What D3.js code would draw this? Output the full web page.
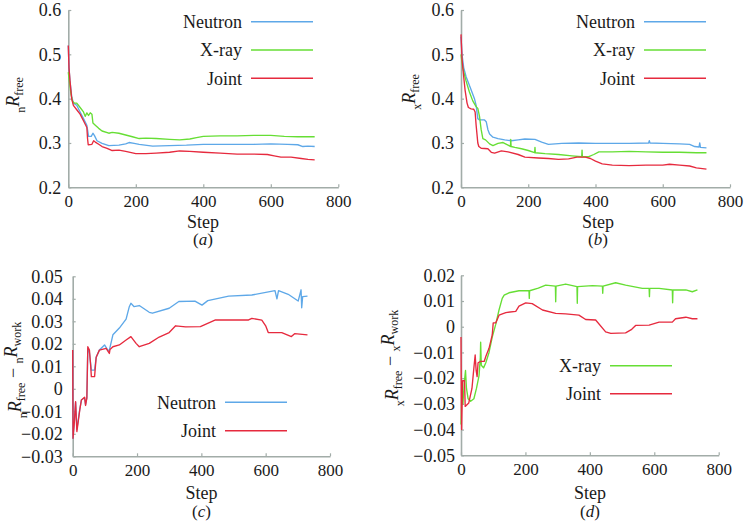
<!DOCTYPE html>
<html><head><meta charset="utf-8">
<script src="https://cdn.jsdelivr.net/npm/d3@7"></script>
<style>
body{margin:0;background:#fff;}
svg{display:block;}
text{font-family:"Liberation Serif","Times New Roman",Tinos,"Nimbus Roman","DejaVu Serif",serif;fill:#1a1a1a;}
</style>
</head><body>
<svg id="chart" width="744" height="527"></svg>
<script>
// ---------------- data ----------------
const stepTicks = [0, 200, 400, 600, 800];
const rfreeTicks = [0.2, 0.3, 0.4, 0.5, 0.6];
const gapTicksC = [-0.03, -0.02, -0.01, 0, 0.01, 0.02, 0.03, 0.04, 0.05];
const gapTicksD = [-0.05, -0.04, -0.03, -0.02, -0.01, 0, 0.01, 0.02];

// (a) nRfree
const aNeutron = [[0,0.52],[2,0.47],[5,0.44],[10,0.405],[15,0.39],[25,0.385],[35,0.37],[45,0.355],[55,0.34],[60,0.315],[68,0.315],[73,0.322],[78,0.316],[85,0.305],[100,0.299],[120,0.294],[150,0.295],[170,0.298],[180,0.301],[195,0.299],[210,0.297],[250,0.293],[300,0.294],[350,0.295],[400,0.297],[450,0.297],[500,0.297],[550,0.297],[600,0.298],[650,0.297],[680,0.296],[695,0.292],[710,0.293],[730,0.292]];
const aXray = [[0,0.46],[3,0.44],[8,0.41],[12,0.395],[18,0.39],[25,0.39],[35,0.38],[45,0.37],[50,0.36],[55,0.368],[60,0.362],[65,0.368],[70,0.365],[73,0.345],[80,0.34],[90,0.333],[100,0.327],[120,0.322],[130,0.324],[150,0.322],[170,0.318],[190,0.314],[210,0.31],[230,0.311],[260,0.31],[300,0.308],[330,0.307],[360,0.309],[380,0.312],[400,0.315],[450,0.316],[500,0.316],[550,0.317],[600,0.317],[640,0.315],[680,0.314],[730,0.314]];
const aJoint = [[0,0.52],[2,0.47],[5,0.44],[10,0.4],[15,0.385],[25,0.375],[35,0.365],[45,0.35],[55,0.335],[57,0.31],[59,0.296],[70,0.297],[75,0.305],[80,0.302],[90,0.297],[100,0.292],[115,0.288],[130,0.283],[150,0.284],[170,0.281],[200,0.276],[230,0.276],[260,0.277],[300,0.279],[330,0.282],[360,0.281],[400,0.279],[450,0.277],[500,0.275],[550,0.275],[590,0.274],[610,0.271],[630,0.268],[660,0.268],[690,0.265],[710,0.263],[730,0.262]];

// (b) xRfree
const bNeutron = [[0,0.54],[3,0.5],[8,0.47],[15,0.45],[20,0.44],[30,0.42],[40,0.4],[45,0.385],[50,0.355],[55,0.352],[70,0.352],[75,0.348],[80,0.33],[85,0.32],[95,0.313],[110,0.31],[130,0.307],[150,0.305],[170,0.307],[190,0.309],[220,0.308],[240,0.302],[260,0.297],[300,0.299],[350,0.3],[400,0.299],[450,0.299],[500,0.299],[558,0.3],[560,0.305],[562,0.3],[600,0.299],[650,0.298],[680,0.297],[695,0.292],[708,0.291],[710,0.3],[712,0.29],[730,0.289]];
const bXray = [[0,0.5],[5,0.47],[15,0.44],[25,0.415],[35,0.395],[45,0.382],[50,0.378],[55,0.36],[60,0.33],[65,0.31],[73,0.307],[85,0.298],[95,0.294],[110,0.299],[125,0.301],[140,0.295],[147,0.292],[148,0.308],[149,0.292],[160,0.29],[180,0.287],[200,0.283],[219,0.278],[220,0.29],[221,0.278],[250,0.276],[290,0.274],[330,0.271],[359,0.269],[360,0.284],[361,0.269],[380,0.269],[395,0.274],[410,0.28],[450,0.28],[500,0.281],[550,0.28],[600,0.279],[650,0.279],[700,0.278],[730,0.278]];
const bJoint = [[0,0.545],[3,0.49],[8,0.45],[12,0.42],[18,0.39],[22,0.38],[30,0.377],[38,0.376],[42,0.37],[45,0.34],[50,0.3],[53,0.292],[60,0.288],[80,0.287],[90,0.279],[100,0.277],[120,0.282],[140,0.28],[170,0.274],[190,0.268],[230,0.266],[260,0.265],[290,0.263],[320,0.264],[345,0.268],[370,0.268],[385,0.265],[400,0.259],[420,0.253],[450,0.25],[500,0.249],[550,0.25],[600,0.25],[620,0.252],[650,0.25],[680,0.248],[700,0.244],[730,0.241]];

// (c) nRfree - nRwork
const cNeutron = [[0,0.0172],[1,-0.022],[5,-0.015],[9,-0.006],[13,-0.018],[22,-0.009],[27,-0.005],[37,-0.004],[40,-0.007],[44,-0.004],[47,0.018],[52,0.016],[58,0.0083],[68,0.0083],[73,0.014],[83,0.0172],[99,0.0195],[110,0.017],[114,0.0172],[125,0.024],[145,0.027],[166,0.031],[176,0.0365],[181,0.038],[191,0.0365],[207,0.037],[238,0.034],[248,0.0336],[300,0.0358],[330,0.0388],[380,0.039],[402,0.0372],[420,0.0392],[485,0.0412],[557,0.0417],[629,0.0436],[635,0.04],[640,0.0436],[670,0.042],[701,0.039],[710,0.044],[712,0.036],[715,0.041],[730,0.0412]];
const cJoint = [[0,0.0172],[1,-0.022],[5,-0.015],[9,-0.0057],[13,-0.019],[22,-0.0094],[27,-0.005],[37,-0.0037],[40,-0.0074],[44,-0.004],[47,0.0187],[52,0.0172],[56,0.01],[58,0.0054],[68,0.0054],[73,0.014],[83,0.0172],[104,0.018],[114,0.0157],[116,0.0175],[125,0.0187],[145,0.0195],[166,0.0217],[181,0.0232],[197,0.0202],[207,0.0187],[238,0.0202],[269,0.023],[300,0.025],[320,0.028],[351,0.0275],[397,0.0276],[444,0.0306],[547,0.0306],[557,0.0313],[588,0.0305],[600,0.028],[608,0.025],[650,0.025],[680,0.0232],[690,0.0245],[730,0.024]];

// (d) xRfree - xRwork
const dXray = [[0,-0.038],[3,-0.025],[6,-0.03],[10,-0.022],[14,-0.017],[17,-0.024],[22,-0.028],[30,-0.029],[40,-0.028],[48,-0.024],[56,-0.019],[60,-0.012],[61,-0.006],[63,-0.015],[70,-0.016],[77,-0.014],[87,-0.01],[97,-0.004],[108,0.001],[118,0.0065],[128,0.011],[134,0.0123],[149,0.0132],[180,0.014],[211,0.014],[212,0.011],[213,0.014],[240,0.015],[263,0.0162],[293,0.0158],[294,0.0097],[295,0.0158],[325,0.0166],[360,0.0156],[361,0.0091],[362,0.0156],[408,0.016],[439,0.0158],[440,0.013],[441,0.0158],[480,0.0171],[511,0.0162],[563,0.0149],[584,0.0149],[585,0.0117],[586,0.0149],[615,0.0149],[656,0.0143],[657,0.0093],[658,0.0143],[698,0.0143],[718,0.0136],[734,0.0143]];
const dJoint = [[0,-0.004],[1,-0.03],[2,-0.04],[4,-0.025],[5,-0.021],[11,-0.021],[13,-0.031],[24,-0.0297],[34,-0.024],[40,-0.016],[44,-0.011],[47,-0.017],[50,-0.0194],[53,-0.014],[61,-0.0135],[72,-0.0135],[77,-0.0116],[87,-0.0084],[97,-0.0032],[100,0.0015],[108,0.0015],[118,0.0045],[139,0.0055],[170,0.006],[180,0.008],[201,0.0093],[221,0.009],[253,0.0065],[294,0.0052],[325,0.005],[366,0.0045],[387,0.0028],[418,0.0026],[449,-0.002],[465,-0.0026],[511,-0.0024],[530,-0.001],[542,0.0005],[584,0.0006],[615,0.0018],[656,0.0018],[666,0.0031],[698,0.0037],[718,0.0031],[734,0.0031]];

// ---------------- drawing ----------------
const COL = {Neutron:"#5ea8e8", "X-ray":"#66de34", Joint:"#e62a3e"};
const AXIS = "#a2aca8";
const FONT = '"Liberation Serif","Times New Roman",Tinos,"Nimbus Roman","DejaVu Serif",serif';
const svg = d3.select("#chart");

function fmtGap(d){ return d === 0 ? "0" : d3.format(".2f")(d); }

function drawPanel(cfg){
  const x = d3.scaleLinear().domain([0,800]).range([cfg.x0,cfg.x1]);
  const y = d3.scaleLinear().domain(cfg.yDomain).range([cfg.yb,cfg.yt]);
  const g = svg.append("g");

  const xa = g.append("g").attr("transform",`translate(0,${cfg.yb})`)
    .call(d3.axisBottom(x).tickValues(stepTicks).tickFormat(d3.format("d"))
      .tickSizeInner(-3).tickSizeOuter(0).tickPadding(8));
  const ya = g.append("g").attr("transform",`translate(${cfg.x0},0)`)
    .call(d3.axisLeft(y).tickValues(cfg.yTicks).tickFormat(cfg.fmt)
      .tickSizeInner(-3).tickSizeOuter(0).tickPadding(cfg.ypad));
  [xa,ya].forEach(a=>{
    a.attr("font-family",null).attr("font-size",null);
    a.select(".domain").attr("stroke",AXIS).attr("stroke-width",1.6);
    a.selectAll(".tick line").attr("stroke",AXIS).attr("stroke-width",1.2);
    a.selectAll(".tick text").attr("fill","#1a1a1a").style("font-family",FONT);
  });
  xa.selectAll(".tick text").style("font-size","17px");
  ya.selectAll(".tick text").style("font-size",cfg.yfs+"px");

  const line = d3.line().x(d=>x(d[0])).y(d=>y(d[1]));
  cfg.series.forEach(s=>{
    g.append("path").datum(s.data).attr("fill","none")
      .attr("stroke",COL[s.name]).attr("stroke-width",1.35)
      .attr("stroke-linejoin","round").attr("d",line);
  });

  // legend
  cfg.series.forEach((s,i)=>{
    const ly = cfg.legY + i*cfg.legDy;
    g.append("text").attr("x",cfg.legX).attr("y",ly).attr("dy","0.35em")
      .attr("text-anchor","end").style("font-family",FONT).style("font-size","18px").text(s.name);
    g.append("line").attr("x1",cfg.legX+9).attr("x2",cfg.legX+71)
      .attr("y1",ly).attr("y2",ly).attr("stroke",COL[s.name]).attr("stroke-width",1.6);
  });

  // x title and panel tag
  g.append("text").attr("x",cfg.stepX).attr("y",cfg.stepY).attr("dy","0.35em")
    .attr("text-anchor","middle").style("font-family",FONT).style("font-size","18px").text("Step");
  const tag = g.append("text").attr("x",cfg.stepX).attr("y",cfg.stepY+18).attr("dy","0.35em")
    .attr("text-anchor","middle").style("font-family",FONT).style("font-size","17px");
  tag.append("tspan").text("(");
  tag.append("tspan").style("font-style","italic").text(cfg.tag);
  tag.append("tspan").text(")");

  // y title
  const t = g.append("text").attr("transform",`translate(${cfg.ylx},${cfg.yly}) rotate(-90)`)
    .attr("text-anchor","middle").style("font-family",FONT).style("font-size","18px");
  cfg.ylabel.forEach(part=>{
    const ts = t.append("tspan").text(part.t);
    if(part.sub){ ts.style("font-size","12px").attr("dy", part.dy); }
    else if(part.dy){ ts.attr("dy", part.dy); }
    if(part.it) ts.style("font-style","italic");
  });
}

const preN = "n", preX = "x";
function rLabel(p){ return [{t:p,sub:true,dy:"0.35em"},{t:"R",it:true,dy:"-0.35em"},{t:"free",sub:true,dy:"0.35em"}]; }
function gapLabel(p){ return [{t:p,sub:true,dy:"0.35em"},{t:"R",it:true,dy:"-0.35em"},{t:"free",sub:true,dy:"0.35em"},{t:" \u2212 ",dy:"-0.35em"},{t:p,sub:true,dy:"0.35em"},{t:"R",it:true,dy:"-0.35em"},{t:"work",sub:true,dy:"0.35em"}]; }

drawPanel({x0:68.3,x1:338.3,yt:10,yb:187.3,yDomain:[0.2,0.6],yTicks:rfreeTicks,fmt:d3.format(".1f"),ypad:7,yfs:18,
  series:[{name:"Neutron",data:aNeutron},{name:"X-ray",data:aXray},{name:"Joint",data:aJoint}],
  legX:242,legY:21.7,legDy:28.3,stepX:203,stepY:221.5,tag:"a",ylx:21,yly:95,ylabel:rLabel(preN)});
drawPanel({x0:461,x1:730,yt:10,yb:187.3,yDomain:[0.2,0.6],yTicks:rfreeTicks,fmt:d3.format(".1f"),ypad:7,yfs:18,
  series:[{name:"Neutron",data:bNeutron},{name:"X-ray",data:bXray},{name:"Joint",data:bJoint}],
  legX:635,legY:21.7,legDy:28.3,stepX:598,stepY:221.5,tag:"b",ylx:417,yly:92,ylabel:rLabel(preX)});
drawPanel({x0:72.7,x1:330,yt:276.3,yb:456.3,yDomain:[-0.03,0.05],yTicks:gapTicksC,fmt:fmtGap,ypad:10,yfs:18,
  series:[{name:"Neutron",data:cNeutron},{name:"Joint",data:cJoint}],
  legX:216,legY:402.3,legDy:28.4,stepX:201.5,stepY:493,tag:"c",ylx:23,yly:370,ylabel:gapLabel(preN)});
drawPanel({x0:461,x1:718.7,yt:275.3,yb:455.3,yDomain:[-0.05,0.02],yTicks:gapTicksD,fmt:fmtGap,ypad:6,yfs:18,
  series:[{name:"X-ray",data:dXray},{name:"Joint",data:dJoint}],
  legX:601,legY:365.7,legDy:28,stepX:590,stepY:493,tag:"d",ylx:400,yly:358,ylabel:gapLabel(preX)});
</script>
</body></html>
